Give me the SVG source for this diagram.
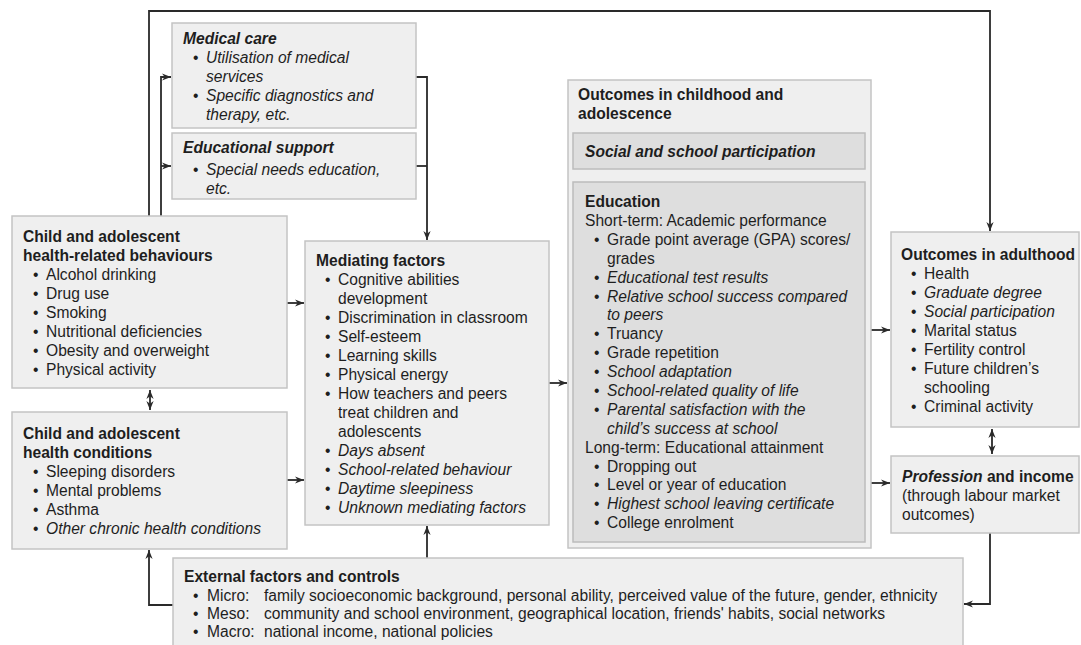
<svg xmlns="http://www.w3.org/2000/svg" width="1081" height="645" viewBox="0 0 1081 645">
<style>
text{font-family:"Liberation Sans",Arial,sans-serif;font-size:15.6px;fill:#1e1e1e}
.t{font-weight:bold}
.bi{font-weight:bold;font-style:italic}
.i{font-style:italic}
.box{fill:#efefef;stroke:#c4c4c4;stroke-width:1.5}
.dk{fill:#dedede;stroke:#bcbcbc;stroke-width:1.5}
.c{fill:none;stroke:#2a2a2a;stroke-width:1.8}
</style>
<defs>
<marker id="ah" viewBox="0 0 10 8" refX="10" refY="4" markerWidth="9" markerHeight="7.2" markerUnits="userSpaceOnUse" orient="auto-start-reverse">
<path d="M0,0 L10,4 L0,8 L3,4 z" fill="#2a2a2a"/>
</marker>
</defs>
<rect width="1081" height="645" fill="#fff"/>

<g id="connectors">
<path class="c" d="M149,216 V11 H990 V231" marker-end="url(#ah)"/>
<path class="c" d="M161,216 V77 H171" marker-end="url(#ah)"/>
<path class="c" d="M161,166 H171" marker-end="url(#ah)"/>
<path class="c" d="M416,77 H427 V240" marker-end="url(#ah)"/>
<path class="c" d="M416,166 H427"/>
<path class="c" d="M287,303 H304" marker-end="url(#ah)"/>
<path class="c" d="M287,480 H304" marker-end="url(#ah)"/>
<path class="c" d="M150,390 V410" marker-start="url(#ah)" marker-end="url(#ah)"/>
<path class="c" d="M549,383 H567" marker-end="url(#ah)"/>
<path class="c" d="M871,330 H890" marker-end="url(#ah)"/>
<path class="c" d="M871,483 H890" marker-end="url(#ah)"/>
<path class="c" d="M992,429 V454" marker-start="url(#ah)" marker-end="url(#ah)"/>
<path class="c" d="M990,533 V604 H964" marker-end="url(#ah)"/>
<path class="c" d="M173,605 H149 V550" marker-end="url(#ah)"/>
<path class="c" d="M427,558 V526" marker-end="url(#ah)"/>
</g>

<g id="medical-care">
<rect class="box" x="172" y="23" width="244" height="105"/>
<text class="bi" x="183" y="44">Medical care</text>
<text x="193" y="63">•</text><text class="i" x="206" y="63">Utilisation of medical</text>
<text class="i" x="206" y="82">services</text>
<text x="193" y="101">•</text><text class="i" x="206" y="101">Specific diagnostics and</text>
<text class="i" x="206" y="120">therapy, etc.</text>
</g>

<g id="educational-support">
<rect class="box" x="172" y="133" width="244" height="66"/>
<text class="bi" x="183" y="153">Educational support</text>
<text x="193" y="175">•</text><text class="i" x="206" y="175">Special needs education,</text>
<text class="i" x="206" y="194">etc.</text>
</g>

<g id="behaviours">
<rect class="box" x="12" y="216" width="275" height="172"/>
<text class="t" x="23" y="242">Child and adolescent</text>
<text class="t" x="23" y="261">health-related behaviours</text>
<text x="33" y="280">•</text><text x="46" y="280">Alcohol drinking</text>
<text x="33" y="299">•</text><text x="46" y="299">Drug use</text>
<text x="33" y="318">•</text><text x="46" y="318">Smoking</text>
<text x="33" y="337">•</text><text x="46" y="337">Nutritional deficiencies</text>
<text x="33" y="356">•</text><text x="46" y="356">Obesity and overweight</text>
<text x="33" y="375">•</text><text x="46" y="375">Physical activity</text>
</g>

<g id="conditions">
<rect class="box" x="12" y="412" width="275" height="137"/>
<text class="t" x="23" y="439">Child and adolescent</text>
<text class="t" x="23" y="458">health conditions</text>
<text x="33" y="477">•</text><text x="46" y="477">Sleeping disorders</text>
<text x="33" y="496">•</text><text x="46" y="496">Mental problems</text>
<text x="33" y="515">•</text><text x="46" y="515">Asthma</text>
<text x="33" y="534">•</text><text class="i" x="46" y="534">Other chronic health conditions</text>
</g>

<g id="mediating">
<rect class="box" x="305" y="241" width="244" height="284"/>
<text class="t" x="316" y="266">Mediating factors</text>
<text x="325" y="285">•</text><text x="338" y="285">Cognitive abilities</text>
<text x="338" y="304">development</text>
<text x="325" y="323">•</text><text x="338" y="323">Discrimination in classroom</text>
<text x="325" y="342">•</text><text x="338" y="342">Self-esteem</text>
<text x="325" y="361">•</text><text x="338" y="361">Learning skills</text>
<text x="325" y="380">•</text><text x="338" y="380">Physical energy</text>
<text x="325" y="399">•</text><text x="338" y="399">How teachers and peers</text>
<text x="338" y="418">treat children and</text>
<text x="338" y="437">adolescents</text>
<text x="325" y="456">•</text><text class="i" x="338" y="456">Days absent</text>
<text x="325" y="475">•</text><text class="i" x="338" y="475">School-related behaviour</text>
<text x="325" y="494">•</text><text class="i" x="338" y="494">Daytime sleepiness</text>
<text x="325" y="513">•</text><text class="i" x="338" y="513">Unknown mediating factors</text>
</g>

<g id="outcomes-childhood">
<rect class="box" x="568" y="80" width="303" height="468"/>
<text class="t" x="578" y="100">Outcomes in childhood and</text>
<text class="t" x="578" y="119">adolescence</text>
<rect class="dk" x="573" y="133" width="292" height="36"/>
<text class="bi" x="585" y="157">Social and school participation</text>
<rect class="dk" x="573" y="182" width="292" height="360"/>
<text class="t" x="585" y="207">Education</text>
<text x="585" y="226">Short-term: Academic performance</text>
<text x="594" y="245">•</text><text x="607" y="245">Grade point average (GPA) scores/</text>
<text x="607" y="264">grades</text>
<text x="594" y="283">•</text><text class="i" x="607" y="283">Educational test results</text>
<text x="594" y="302">•</text><text class="i" x="607" y="302">Relative school success compared</text>
<text class="i" x="607" y="320">to peers</text>
<text x="594" y="339">•</text><text x="607" y="339">Truancy</text>
<text x="594" y="358">•</text><text x="607" y="358">Grade repetition</text>
<text x="594" y="377">•</text><text class="i" x="607" y="377">School adaptation</text>
<text x="594" y="396">•</text><text class="i" x="607" y="396">School-related quality of life</text>
<text x="594" y="415">•</text><text class="i" x="607" y="415">Parental satisfaction with the</text>
<text class="i" x="607" y="434">child’s success at school</text>
<text x="585" y="453">Long-term: Educational attainment</text>
<text x="594" y="472">•</text><text x="607" y="472">Dropping out</text>
<text x="594" y="490">•</text><text x="607" y="490">Level or year of education</text>
<text x="594" y="509">•</text><text class="i" x="607" y="509">Highest school leaving certificate</text>
<text x="594" y="528">•</text><text x="607" y="528">College enrolment</text>
</g>

<g id="outcomes-adulthood">
<rect class="box" x="891" y="232" width="188" height="195"/>
<text class="t" x="901" y="260">Outcomes in adulthood</text>
<text x="911" y="279">•</text><text x="924" y="279">Health</text>
<text x="911" y="298">•</text><text class="i" x="924" y="298">Graduate degree</text>
<text x="911" y="317">•</text><text class="i" x="924" y="317">Social participation</text>
<text x="911" y="336">•</text><text x="924" y="336">Marital status</text>
<text x="911" y="355">•</text><text x="924" y="355">Fertility control</text>
<text x="911" y="374">•</text><text x="924" y="374">Future children’s</text>
<text x="924" y="393">schooling</text>
<text x="911" y="412">•</text><text x="924" y="412">Criminal activity</text>
</g>

<g id="profession">
<rect class="box" x="891" y="456" width="188" height="77"/>
<text x="902" y="482"><tspan class="bi">Profession</tspan><tspan class="t"> and income</tspan></text>
<text x="902" y="501">(through labour market</text>
<text x="902" y="520">outcomes)</text>
</g>

<g id="external">
<rect class="box" x="173" y="558" width="790" height="92"/>
<text class="t" x="184" y="582">External factors and controls</text>
<text x="193" y="601">•</text><text x="207" y="601">Micro:</text><text x="264" y="601">family socioeconomic background, personal ability, perceived value of the future, gender, ethnicity</text>
<text x="193" y="619">•</text><text x="207" y="619">Meso:</text><text x="264" y="619">community and school environment, geographical location, friends' habits, social networks</text>
<text x="193" y="637">•</text><text x="207" y="637">Macro:</text><text x="264" y="637">national income, national policies</text>
</g>
</svg>
